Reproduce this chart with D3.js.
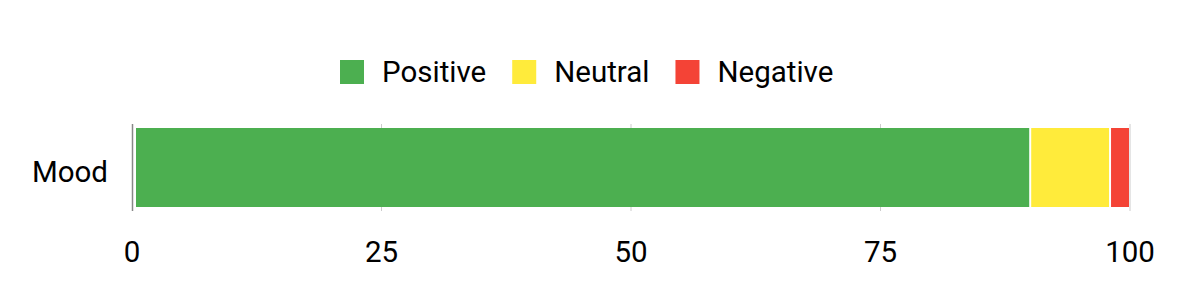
<!DOCTYPE html>
<html>
<head>
<meta charset="utf-8">
<script src="https://cdn.jsdelivr.net/npm/d3@7"></script>
<style>
  body { margin: 0; background: #fff; }
  text { font-family: Roboto, "Noto Sans", sans-serif; }
</style>
</head>
<body>
<svg id="chart" width="1200" height="300"></svg>
<script>
// data
var categories = ["Mood"];
var seriesNames = ["Positive", "Neutral", "Negative"];
var seriesColors = ["#4caf50", "#ffeb3b", "#f44336"];
var positive = [90];
var neutral = [8];
var negative = [2];
var tickValues = [0, 25, 50, 75, 100];

var svg = d3.select("#chart");

//chart area (names avoid window.top)
var plotLeft = 132, plotRight = 1130, plotTop = 128, plotBottom = 207;
var fontSize = "29.5px";

var x = d3.scaleLinear().domain([0, 100]).range([plotLeft, plotRight]);
var y = d3.scaleBand().domain(categories).range([plotTop, plotBottom]).padding(0);

//build rows for stacking
var rows = categories.map(function (c, i) {
  return {cat: c, Positive: positive[i], Neutral: neutral[i], Negative: negative[i]};
});
var stack = d3.stack().keys(seriesNames)(rows);

//grid lines, a little taller than the bar
svg.append("g")
  .selectAll("line")
  .data(tickValues.slice(1))
  .enter().append("line")
  .attr("x1", function (d) { return x(d); })
  .attr("x2", function (d) { return x(d); })
  .attr("y1", plotTop - 4)
  .attr("y2", plotBottom + 4)
  .style("stroke", "#cccccc")
  .style("stroke-width", 1);

//bar segments, the first one leaves a small gap after the axis line
svg.append("g")
  .selectAll("g")
  .data(stack)
  .enter().append("g")
  .style("fill", function (d, i) { return seriesColors[i]; })
  .selectAll("rect")
  .data(function (d) { return d; })
  .enter().append("rect")
  .attr("x", function (d) { return x(d[0]) + (d[0] === 0 ? 4 : 1); })
  .attr("width", function (d) { return x(d[1]) - x(d[0]) - (d[0] === 0 ? 5 : 2); })
  .attr("y", function (d) { return y(d.data.cat); })
  .attr("height", y.bandwidth());

//left axis line
svg.append("line")
  .attr("x1", plotLeft + 0.5).attr("x2", plotLeft + 0.5)
  .attr("y1", plotTop - 4).attr("y2", plotBottom + 4)
  .style("stroke", "#888888")
  .style("stroke-width", 1.5);

//category labels
svg.append("g")
  .selectAll("text")
  .data(categories)
  .enter().append("text")
  .attr("x", 108)
  .attr("y", function (d) { return y(d) + y.bandwidth() / 2 + 14; })
  .attr("text-anchor", "end")
  .style("font-size", fontSize)
  .style("fill", "#000")
  .text(function (d) { return d; });

//x tick labels
svg.append("g")
  .selectAll("text")
  .data(tickValues)
  .enter().append("text")
  .attr("x", function (d) { return x(d); })
  .attr("y", 262)
  .attr("text-anchor", "middle")
  .style("font-size", fontSize)
  .style("fill", "#000")
  .text(function (d) { return d; });

//legend, placed item after item
var legend = svg.append("g");
var lx = 340;
seriesNames.forEach(function (name, i) {
  legend.append("rect")
    .attr("x", lx).attr("y", 60)
    .attr("width", 24).attr("height", 24)
    .style("fill", seriesColors[i]);
  var t = legend.append("text")
    .attr("x", lx + 42).attr("y", 82)
    .style("font-size", fontSize)
    .style("fill", "#000")
    .text(name);
  lx = lx + 42 + t.node().getComputedTextLength() + 26;
});
</script>
</body>
</html>
